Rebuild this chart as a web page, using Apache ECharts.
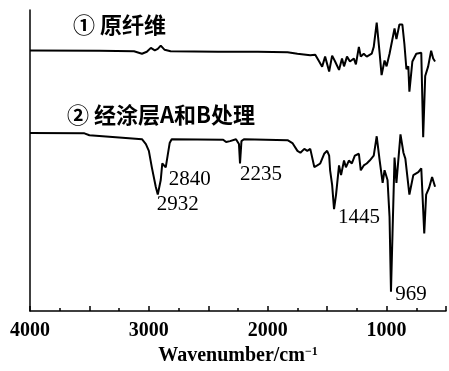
<!DOCTYPE html>
<html>
<head>
<meta charset="utf-8">
<script src="https://cdn.jsdelivr.net/npm/echarts@6/dist/echarts.min.js"></script>
<style>
  html, body { margin: 0; padding: 0; background: #fff; }
  #chart { width: 449px; height: 371px; }
</style>
</head>
<body>
<div id="chart"></div>
<script>
// curve 1: original fibre (wavenumber, relative transmittance)
const wave1 = [4000, 3417, 3125, 3058, 3017, 2983, 2950, 2925, 2900, 2867, 2817, 2417, 2083, 1833, 1750,
  1642, 1600, 1567, 1542, 1517, 1483, 1458, 1433, 1400, 1375, 1358, 1333, 1308, 1275, 1258, 1233, 1217,
  1192, 1167, 1125, 1108, 1083, 1058, 1042, 1017, 1000, 975, 933, 917, 892, 867, 850, 833, 817, 808, 783,
  750, 708, 692, 675, 650, 625, 608, 592];
const trans1 = [268.3, 268, 267.5, 265, 267, 271, 268.5, 270, 273.3, 269, 267.5, 267, 267, 266.5, 265,
  263.3, 264, 257, 251.7, 262, 246.7, 263, 257, 248.3, 260, 252, 262, 257, 260, 254, 272, 262,
  265, 262, 265, 272, 297, 265, 243, 258, 252, 265, 291, 280, 295, 295, 275, 249, 252, 226, 257,
  265, 266, 179, 242, 252, 268, 260, 257];

// curve 2: treated with coating A and B
const wave2 = [4000, 3542, 3500, 3167, 3058, 3025, 3000, 2975, 2942, 2925, 2900, 2887, 2875, 2858, 2842,
  2825, 2808, 2375, 2350, 2317, 2267, 2242, 2233, 2221, 2200, 1833, 1792, 1750, 1725, 1692, 1667, 1642,
  1608, 1583, 1558, 1525, 1500, 1483, 1475, 1458, 1442, 1425, 1400, 1383, 1358, 1342, 1317, 1292, 1267,
  1233, 1217, 1192, 1167, 1142, 1108, 1083, 1058, 1033, 1017, 992, 975, 963, 950, 933, 917, 883, 858,
  842, 808, 775, 733, 708, 683, 667, 642, 617, 592];
const trans2 = [183.3, 183, 181, 178, 177, 172, 165, 148, 128, 120, 135, 152, 150, 148, 160,
  173, 177, 176.5, 174, 175, 177, 172, 152, 175, 177, 176, 173, 165, 163, 167, 165, 167,
  148.3, 150, 152, 162, 165, 160, 145, 130, 105, 120, 150, 140, 155, 148, 155, 152, 160,
  162, 145, 150, 152, 155, 160, 180, 155, 132, 145, 135, 97, 20, 80, 158, 132, 182, 163,
  157, 120, 140, 143, 147, 80, 120, 127, 138, 128];

// labelled bands on curve 2: [text, wavenumber, value]
const bandLabels = [
  ['2932', 2925, 120],
  ['2840', 2858, 148],
  ['2235', 2233, 152],
  ['1445', 1442, 105],
  ['969', 963, 20]
];
const bandOffsets = [[20, 10], [24, 12], [21, 11], [25, 8], [20, 3]];

const curveNames = ['① 原纤维', '② 经涂层A和B处理'];

const chart = echarts.init(document.getElementById('chart'));

const option = {
  animation: false,
  grid: { left: 30, top: 10, width: 420, bottom: 51 },
  xAxis: {
    type: 'value',
    inverse: true,
    min: 500,
    max: 4000,
    interval: 500,
    axisLine: { lineStyle: { color: '#000', width: 1.5 } },
    axisTick: { inside: true, length: 5, lineStyle: { color: '#000', width: 1.5 } },
    minorTick: { show: true, splitNumber: 2, length: 3, lineStyle: { color: '#000', width: 1.5 } },
    splitLine: { show: false },
    axisLabel: {
      margin: 10,
      color: '#000',
      fontFamily: 'Liberation Serif',
      fontWeight: 'bold',
      fontSize: 20,
      formatter: (v) => (v % 1000 === 0 ? String(v) : '')
    },
    name: '{a|Wavenumber/cm}{b|−1}',
    nameLocation: 'middle',
    nameGap: 32,
    nameTextStyle: {
      rich: {
        a: { fontFamily: 'Liberation Serif', fontWeight: 'bold', fontSize: 20, color: '#000' },
        b: { fontFamily: 'Liberation Serif', fontWeight: 'bold', fontSize: 12, color: '#000',
             verticalAlign: 'top', padding: [0, 0, 8, 0] }
      }
    }
  },
  yAxis: {
    type: 'value',
    min: 0,
    max: 310,
    axisLine: { show: true, lineStyle: { color: '#000', width: 1.5 } },
    axisTick: { show: false },
    axisLabel: { show: false },
    splitLine: { show: false }
  },
  graphic: [
    {
      type: 'text', left: 73, top: 14,
      style: { text: curveNames[0], font: 'bold 22px "Noto Sans CJK SC"', fill: '#000' }
    },
    {
      type: 'text', left: 67, top: 104,
      style: { text: curveNames[1], font: 'bold 22px "Noto Sans CJK SC"', fill: '#000' }
    }
  ],
  series: [
    {
      name: curveNames[0],
      type: 'line',
      showSymbol: false,
      data: wave1.map((w, i) => [w, trans1[i]]),
      lineStyle: { color: '#000', width: 2 }
    },
    {
      name: curveNames[1],
      type: 'line',
      showSymbol: false,
      data: wave2.map((w, i) => [w, trans2[i]]),
      lineStyle: { color: '#000', width: 2 },
      markPoint: {
        symbolSize: 0,
        data: bandLabels.map((b, i) => ({
          coord: [b[1], b[2]],
          label: {
            show: true,
            formatter: b[0],
            offset: bandOffsets[i],
            color: '#000',
            fontFamily: 'Liberation Serif',
            fontSize: 21
          }
        }))
      }
    }
  ]
};

chart.setOption(option);
</script>
</body>
</html>
